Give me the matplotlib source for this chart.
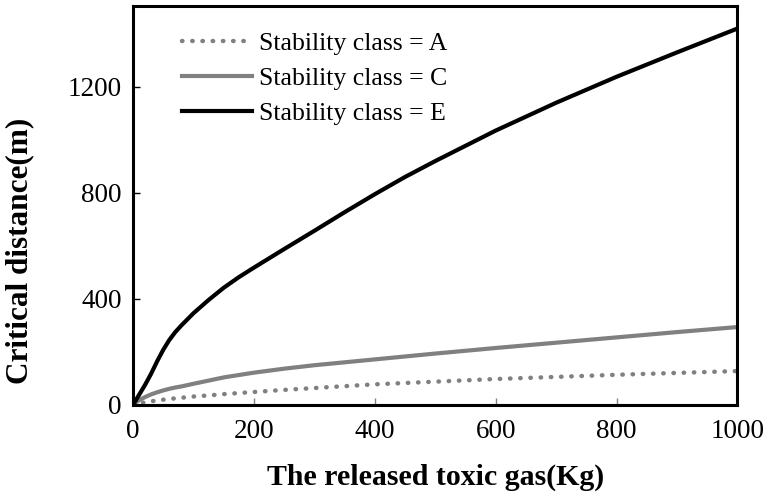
import numpy as np
import matplotlib

matplotlib.use("Agg")
import matplotlib.pyplot as plt

# released toxic gas (kg) and critical distance (m) per stability class
mass_kg = [0, 5, 10, 20, 30, 40, 50, 60, 70, 80, 90, 100, 125, 150, 175, 200,
           250, 300, 350, 400, 450, 500, 600, 700, 800, 900, 1000]
dist_a = [0, 4, 6, 10, 14, 17, 20, 23, 25, 27, 30, 32, 36, 41, 45, 49,
          57, 64, 71, 78, 83, 88, 98, 106, 114, 121, 128]
dist_c = [0, 10, 18, 30, 40, 48, 55, 61, 66, 70, 75, 80, 92, 104, 113, 122,
          137, 150, 161, 172, 183, 194, 215, 235, 255, 275, 294]
dist_e = [0, 19, 38, 76, 118, 165, 208, 245, 275, 300, 323, 346, 396, 442, 482, 518,
          588, 657, 727, 795, 860, 920, 1035, 1140, 1238, 1330, 1420]

x_ticks = [0, 200, 400, 600, 800, 1000]
y_ticks = [0, 400, 800, 1200]

plt.rcParams["font.family"] = ["Liberation Serif", "DejaVu Serif"]

fig = plt.figure(figsize=(7.7, 5.0), dpi=100)
ax = fig.add_axes([0.1727, 0.19, 0.785, 0.798])

ax.plot(mass_kg, dist_a, color="#808080", linestyle=(0, (0.1, 2.2)), linewidth=3.2,
        dash_capstyle="round", label="Stability class = A")
ax.plot(mass_kg, dist_c, color="#808080", linewidth=3.0, label="Stability class = C")
ax.plot(mass_kg, dist_e, color="black", linewidth=3.0, label="Stability class = E")

ax.set_xlim(0, 1000)
ax.set_ylim(0, 1505)
ax.set_xticks(x_ticks)
ax.set_yticks(y_ticks)
ax.tick_params(axis="both", direction="in", labelsize=19.5, length=5, width=1)
ax.tick_params(axis="x", colors="#808080", labelcolor="black", pad=10)
ax.tick_params(axis="y", pad=8)
for spine in ax.spines.values():
    spine.set_linewidth(2.2)
ax.axhline(0, color="#808080", linewidth=1.5, zorder=1)

ax.set_xlabel("The released toxic gas(Kg)", fontsize=21.5, fontweight="bold", labelpad=14)
ax.set_ylabel("Critical distance(m)", fontsize=22.5, fontweight="bold")
ax.yaxis.set_label_coords(-0.163, 0.386)

ax.legend(loc="upper left", frameon=False, fontsize=18.5, handlelength=2.7,
          handletextpad=0.3, labelspacing=0.47, borderaxespad=0.3,
          bbox_to_anchor=(0.052, 0.98))

fig.savefig("out.png", dpi=100)
